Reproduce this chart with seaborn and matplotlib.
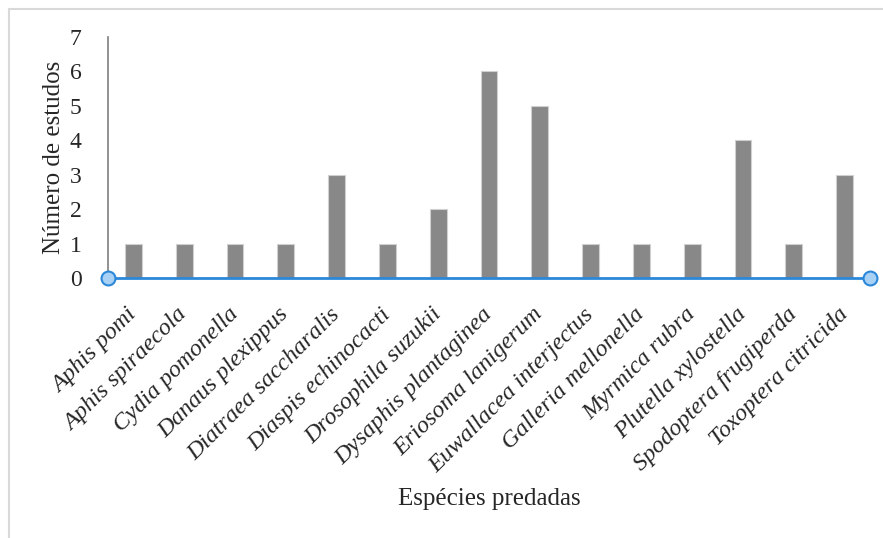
import matplotlib
matplotlib.use("Agg")
import matplotlib.pyplot as plt
from matplotlib.lines import Line2D
import seaborn as sns
import pandas as pd

species = ["Aphis pomi", "Aphis spiraecola", "Cydia pomonella", "Danaus plexippus",
           "Diatraea saccharalis", "Diaspis echinocacti", "Drosophila suzukii",
           "Dysaphis plantaginea", "Eriosoma lanigerum", "Euwallacea interjectus",
           "Galleria mellonella", "Myrmica rubra", "Plutella xylostella",
           "Spodoptera frugiperda", "Toxoptera citricida"]
estudos = [1, 1, 1, 1, 3, 1, 2, 6, 5, 1, 1, 1, 4, 1, 3]
yticks = [0, 1, 2, 3, 4, 5, 6, 7]

sns.set_theme(style="white")
plt.rcParams['font.family'] = ['Liberation Serif', 'DejaVu Serif']

df = pd.DataFrame({"sp": species, "n": estudos})

fig = plt.figure(figsize=(8.83, 5.38), dpi=100)
ax = fig.add_axes([108/883, 1-278/538, (870-108)/883, (278-37)/538])

sns.barplot(data=df, x="sp", y="n", ax=ax, color="#888888", width=0.33,
            edgecolor="#d0d0d0", linewidth=0.8, saturation=1)

ax.set_xlim(-0.5, len(species)-0.5)
ax.set_ylim(0, 7)
ax.set_yticks(yticks)
ax.set_yticklabels([str(t) for t in yticks], fontsize=17)
ax.tick_params(axis='y', length=0, pad=19)
ax.tick_params(axis='x', length=0, pad=24)
ax.set_xticks(range(len(species)))
ax.set_xticklabels(species, rotation=45, ha='right', rotation_mode='anchor',
                   fontsize=17.5, style='italic', va='center')

ax.set_ylabel("Número de estudos", fontsize=18, labelpad=0)
ax.yaxis.set_label_coords(-(108-65)/(870-108), 0.5)
ax.set_xlabel("Espécies predadas", fontsize=18, va='center')
ax.xaxis.set_label_coords((489-108)/(870-108), -(499-278)/(278-37))

for s in ["top", "right"]:
    ax.spines[s].set_visible(False)
ax.spines["left"].set_color("#7f7f7f")
ax.spines["left"].set_linewidth(1.2)
ax.spines["bottom"].set_color("#2b88d8")
ax.spines["bottom"].set_linewidth(2)
ax.spines["bottom"].set_zorder(5)

# selection handles at axis ends
ax.plot([0, 1], [0, 0], transform=ax.transAxes, linestyle='none', marker='o',
        markersize=10, markerfacecolor="#a9d0f5", markeredgecolor="#2b88d8",
        markeredgewidth=1.5, clip_on=False, zorder=6)

# chart area border
fig.add_artist(Line2D([9/883, 1], [1-9/538, 1-9/538], color="#d9d9d9", lw=1.5))
fig.add_artist(Line2D([9/883, 9/883], [0, 1-9/538], color="#d9d9d9", lw=1.5))

fig.savefig("out.png", dpi=100, facecolor="white")
